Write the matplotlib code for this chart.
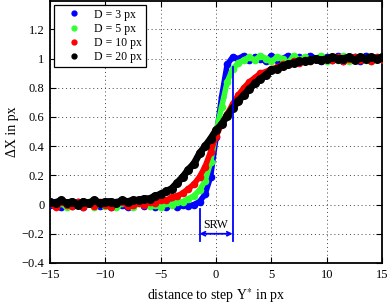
import matplotlib
matplotlib.use("Agg")
import matplotlib.pyplot as plt
from matplotlib.lines import Line2D
import numpy as np

# ── data ────────────────────────────────────────────────────────────────────
x_step = np.arange(-15, 15.01, 0.5)   # distance to step Y* in px

dx_d3 = [0.00, 0.02, -0.02, 0.01, -0.01, 0.02, -0.02, 0.01, 0.03, -0.01,
         0.01, -0.02, 0.02, 0.00, -0.02, 0.01, 0.02, -0.01, 0.00, -0.02,
         0.01, -0.02, 0.01, -0.02, 0.00, -0.01, 0.00, 0.02, 0.07, 0.19,
         0.46, 0.74, 0.96, 1.01, 1.00, 1.02, 0.99, 1.01, 1.00, 0.98,
         1.02, 0.99, 1.00, 1.02, 0.98, 1.01, 0.99, 1.02, 1.00, 0.98,
         1.01, 0.99, 1.02, 0.98, 1.00, 1.01, 0.98, 1.02, 0.99, 1.00, 1.01]

dx_d5 = [0.02, -0.01, 0.01, -0.02, 0.02, 0.00, -0.01, 0.02, -0.02, 0.01,
         -0.01, 0.02, -0.02, 0.01, 0.00, -0.02, 0.01, 0.02, -0.01, 0.00,
         -0.02, 0.01, 0.00, 0.02, 0.02, 0.04, 0.06, 0.10, 0.16, 0.29,
         0.50, 0.67, 0.84, 0.93, 0.97, 0.99, 1.01, 0.99, 1.02, 1.00,
         0.98, 1.01, 1.00, 0.97, 1.02, 0.99, 1.01, 0.98, 1.00, 1.02,
         0.98, 1.01, 0.99, 1.02, 0.98, 1.00, 1.01, 0.99, 0.98, 1.01, 1.00]

dx_d10 = [0.01, -0.02, 0.02, 0.00, -0.01, 0.02, -0.02, 0.01, -0.01, 0.02,
          0.00, -0.02, 0.01, 0.02, -0.01, 0.00, 0.01, 0.00, 0.02, 0.01,
          0.03, 0.03, 0.05, 0.06, 0.08, 0.11, 0.14, 0.19, 0.26, 0.36,
          0.47, 0.55, 0.62, 0.69, 0.75, 0.80, 0.84, 0.87, 0.90, 0.91,
          0.93, 0.94, 0.96, 0.96, 0.98, 0.97, 0.99, 0.98, 1.00, 0.99,
          1.00, 0.99, 1.01, 0.98, 1.00, 1.01, 0.99, 1.00, 0.98, 1.01, 1.00]

dx_d20 = [0.02, 0.01, 0.03, 0.01, 0.02, 0.00, 0.02, 0.01, 0.03, 0.01,
          0.02, 0.02, 0.01, 0.03, 0.02, 0.03, 0.03, 0.04, 0.04, 0.06,
          0.07, 0.09, 0.11, 0.15, 0.19, 0.24, 0.28, 0.35, 0.40, 0.45,
          0.51, 0.55, 0.61, 0.66, 0.71, 0.75, 0.79, 0.83, 0.86, 0.89,
          0.92, 0.93, 0.95, 0.96, 0.97, 0.98, 0.98, 0.99, 1.00, 0.99,
          1.00, 1.01, 1.00, 1.00, 1.01, 0.99, 1.01, 1.00, 1.01, 1.00, 1.01]

labels = ["D = 3 px", "D = 5 px", "D = 10 px", "D = 20 px"]
colors = ["#0000ff", "#33ff33", "#ff0000", "#000000"]
series = [dx_d3, dx_d5, dx_d10, dx_d20]

# step response width markers
srw_left, srw_right = -1.5, 1.5
srw_left_top, srw_right_top, srw_bottom = -0.03, 0.94, -0.25
srw_arrow_y = -0.2

# ── plot ────────────────────────────────────────────────────────────────────
plt.rcParams["font.family"] = ["Liberation Serif", "DejaVu Serif"]
plt.rcParams["mathtext.fontset"] = "stix"

fig = plt.figure(figsize=(3.88, 3.04), dpi=100)
ax = fig.add_axes([0.129, 0.135, 0.856, 0.862])

for y, c, lw, ms in zip(series, colors, [4.0, 4.0, 4.0, 5.0], [5.5, 5.5, 5.5, 6.5]):
    ax.plot(x_step, y, color=c, lw=lw, marker="o", ms=ms, mew=0,
            solid_joinstyle="round", solid_capstyle="round", zorder=3)

ax.plot([srw_left, srw_left], [srw_left_top, srw_bottom], color="#0000ff", lw=1.3, zorder=4)
ax.plot([srw_right, srw_right], [srw_right_top, srw_bottom], color="#0000ff", lw=1.3, zorder=4)
ax.annotate("", xy=(srw_left, srw_arrow_y), xytext=(srw_right, srw_arrow_y),
            arrowprops=dict(arrowstyle="<->", color="#0000ff", lw=1.3,
                            shrinkA=0, shrinkB=0, mutation_scale=7), zorder=4)
ax.text(0, -0.137, "SRW", ha="center", va="center", fontsize=8.5)

ax.set_xlim(-15, 15)
ax.set_ylim(-0.4, 1.395)
ax.set_xticks([-15, -10, -5, 0, 5, 10, 15])
ax.set_yticks([-0.4, -0.2, 0, 0.2, 0.4, 0.6, 0.8, 1, 1.2])
ax.set_yticklabels(["\u22120.4", "\u22120.2", "0", "0.2", "0.4", "0.6", "0.8", "1", "1.2"])
ax.set_xticklabels(["\u221215", "\u221210", "\u22125", "0", "5", "10", "15"])
ax.tick_params(direction="in", top=True, right=True, length=4, width=0.8,
               labelsize=9, pad=4)
ax.grid(True, color="#444444", linestyle=(0, (1, 3)), linewidth=0.7)
ax.set_axisbelow(True)
for s in ax.spines.values():
    s.set_linewidth(1.3)

ax.set_xlabel("distance to step Y$^{*}$ in px", fontsize=10, labelpad=4)
ax.set_ylabel("\u0394X in px", fontsize=10, labelpad=2)

handles = [Line2D([], [], color=c, marker="o", ms=3.5, ls="none") for c in colors]
leg = ax.legend(handles, labels, loc="upper left", fontsize=8.5, fancybox=False,
                framealpha=1, edgecolor="black", handlelength=2.8,
                handletextpad=0.3, labelspacing=0.18, borderaxespad=0.35,
                borderpad=0.3)
leg.get_frame().set_linewidth(0.9)

fig.savefig("out.png", dpi=100)
